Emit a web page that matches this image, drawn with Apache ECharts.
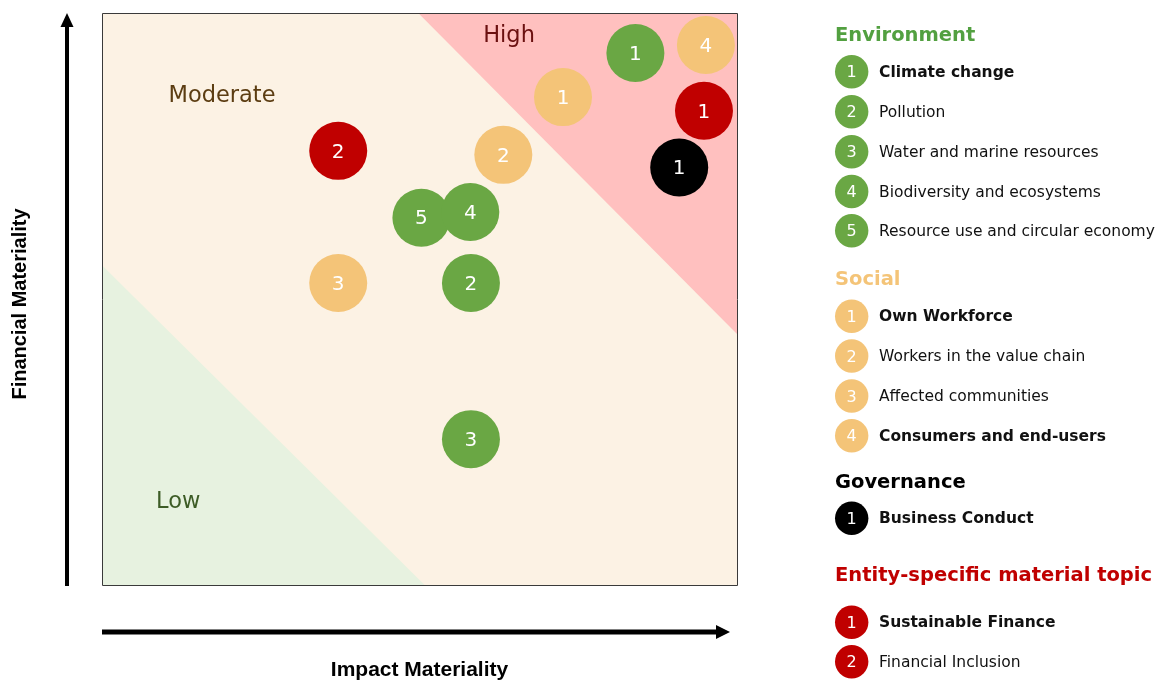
<!DOCTYPE html>
<html><head><meta charset="utf-8">
<script src="https://cdn.jsdelivr.net/npm/echarts@6/dist/echarts.min.js"></script>
<style>html,body{margin:0;padding:0;background:#fff}#c{width:1166px;height:680px}</style>
</head><body><div id="c"></div>
<script>
// ---------- data ----------
const envTopics = ['Climate change', 'Pollution', 'Water and marine resources', 'Biodiversity and ecosystems', 'Resource use and circular economy'];
const socTopics = ['Own Workforce', 'Workers in the value chain', 'Affected communities', 'Consumers and end-users'];
const govTopics = ['Business Conduct'];
const entTopics = ['Sustainable Finance', 'Financial Inclusion'];
const boldTopics = ['Climate change', 'Own Workforce', 'Consumers and end-users', 'Business Conduct', 'Sustainable Finance'];

// [impact materiality, financial materiality, topic number]
const envPoints = [[84.0, 93.0, 1], [58.1, 52.8, 2], [58.1, 25.5, 3], [50.3, 64.2, 5], [58.0, 65.2, 4]];
const socPoints = [[72.6, 85.3, 1], [63.2, 75.2, 2], [37.2, 52.8, 3], [95.1, 94.4, 4]];
const govPoints = [[90.9, 73.0, 1]];
const entPoints = [[94.8, 82.9, 1], [37.2, 75.9, 2]];

// zone polygons (axis units)
const moderateZone = [[0, 0], [100, 0], [100, 100], [0, 100]];
const highZone = [[49.8, 100], [100, 100], [100, 43.9]];
const lowZone = [[0, 55.9], [0, 0], [50.8, 0]];
const zoneNames = ['High', 'Moderate', 'Low'];
const zoneLabelPos = [[64.1, 96.3], [18.9, 85.8], [12.0, 14.9]];

// ---------- styling / layout ----------
const C_GREEN = '#6aa744', C_ORANGE = '#f4c478', C_RED = '#c00000', C_BLACK = '#000000';
const G = {left: 102, top: 13, width: 635, height: 572};
const FONT = "'DejaVu Sans', Verdana, sans-serif";
const AXFONT = "'Liberation Sans', Arial, sans-serif";

const zones = [moderateZone, highZone, lowZone];
const zoneFills = ['#fcf2e4', '#ffc0bf', '#e7f2e0'];
const zoneTextColors = ['#6b1010', '#5c3d12', '#3d5c26'];

function bubbleSeries(name, pts, color) {
  return {
    name: name, type: 'scatter', z: 5,
    symbol: 'circle', symbolSize: 58,
    data: pts,
    itemStyle: {color: color, opacity: 1},
    label: {show: true, position: 'inside', offset: [0, 1.5], formatter: p => String(p.value[2]),
            color: '#ffffff', fontSize: 20, fontFamily: FONT},
    emphasis: {disabled: true}, silent: true
  };
}

// legend graphics
const legendGroups = [
  {title: 'Environment', titleColor: '#52a040', dot: C_GREEN, topics: envTopics, titleY: 34, ys: [71.7, 111.7, 151.7, 191.5, 230.7]},
  {title: 'Social', titleColor: C_ORANGE, dot: C_ORANGE, topics: socTopics, titleY: 278.3, ys: [316.3, 356, 396, 435.7]},
  {title: 'Governance', titleColor: '#000000', dot: C_BLACK, topics: govTopics, titleY: 481.7, ys: [518.3]},
  {title: 'Entity-specific material topic', titleColor: C_RED, dot: C_RED, topics: entTopics, titleY: 574.3, ys: [622.3, 661.7]}
];
const graphics = [];
legendGroups.forEach(g => {
  graphics.push({type: 'text', x: 835, y: g.titleY + 1.5,
    style: {text: g.title, fill: g.titleColor, font: 'bold 19.5px ' + FONT, textAlign: 'left', textVerticalAlign: 'middle'}});
  g.topics.forEach((t, i) => {
    const y = g.ys[i];
    graphics.push({type: 'circle', shape: {cx: 851.7, cy: y, r: 16.7}, style: {fill: g.dot}});
    graphics.push({type: 'text', x: 851.7, y: y + 1.5,
      style: {text: String(i + 1), fill: '#fff', font: '16px ' + FONT, textAlign: 'center', textVerticalAlign: 'middle'}});
    const bold = boldTopics.indexOf(t) >= 0;
    graphics.push({type: 'text', x: 879, y: y + 1,
      style: {text: t, fill: '#111', font: (bold ? 'bold ' : '') + '15.5px ' + FONT, textAlign: 'left', textVerticalAlign: 'middle'}});
  });
});
// axis arrows
graphics.push({type: 'line', shape: {x1: 67, y1: 586, x2: 67, y2: 24}, style: {stroke: '#000', lineWidth: 4}});
graphics.push({type: 'polygon', shape: {points: [[67, 13], [60.5, 27], [73.5, 27]]}, style: {fill: '#000'}});
graphics.push({type: 'line', shape: {x1: 102, y1: 632, x2: 720, y2: 632}, style: {stroke: '#000', lineWidth: 5}});
graphics.push({type: 'polygon', shape: {points: [[730, 632], [716, 625], [716, 639]]}, style: {fill: '#000'}});
// plot frame
graphics.push({type: 'rect', z: 100, shape: {x: G.left + 0.5, y: G.top + 0.5, width: G.width, height: G.height},
  style: {fill: 'none', stroke: '#3a3a3a', lineWidth: 1}});

const chart = echarts.init(document.getElementById('c'), null, {renderer: 'canvas'});
chart.setOption({
  animation: false,
  backgroundColor: '#ffffff',
  grid: {left: G.left, top: G.top, width: G.width, height: G.height, show: false,
         containLabel: false, outerBoundsMode: 'none'},
  xAxis: {type: 'value', min: 0, max: 100,
    axisLine: {show: false}, axisTick: {show: false}, axisLabel: {show: false}, splitLine: {show: false},
    name: 'Impact Materiality', nameLocation: 'middle', nameGap: 75,
    nameTextStyle: {fontFamily: AXFONT, fontWeight: 'bold', fontSize: 21, color: '#000'}},
  yAxis: {type: 'value', min: 0, max: 100,
    axisLine: {show: false}, axisTick: {show: false}, axisLabel: {show: false}, splitLine: {show: false},
    name: 'Financial Materiality', nameLocation: 'middle', nameGap: 72,
    nameTextStyle: {fontFamily: AXFONT, fontWeight: 'bold', fontSize: 20, color: '#000', padding: [0, 10, 0, 0]}},
  graphic: graphics,
  series: [
    {type: 'custom', z: 1, silent: true,
      data: zones.map((z, i) => [i, 0]),
      encode: {x: -1, y: -1},
      renderItem: (params, api) => {
        const i = params.dataIndex;
        return {type: 'polygon', shape: {points: zones[i].map(p => api.coord(p))}, style: {fill: zoneFills[i]}};
      }},
    {type: 'custom', z: 2, silent: true,
      data: zoneLabelPos.map((p, i) => [p[0], p[1], i]),
      renderItem: (params, api) => {
        const pt = api.coord([api.value(0), api.value(1)]);
        const i = params.dataIndex;
        return {type: 'text', x: pt[0], y: pt[1] + 2,
          style: {text: zoneNames[i], fill: zoneTextColors[i], font: '22.5px ' + FONT, textAlign: 'center', textVerticalAlign: 'middle'}};
      }},
    bubbleSeries('Environment', envPoints, C_GREEN),
    bubbleSeries('Social', socPoints, C_ORANGE),
    bubbleSeries('Governance', govPoints, C_BLACK),
    bubbleSeries('Entity-specific', entPoints, C_RED)
  ]
});
</script></body></html>
